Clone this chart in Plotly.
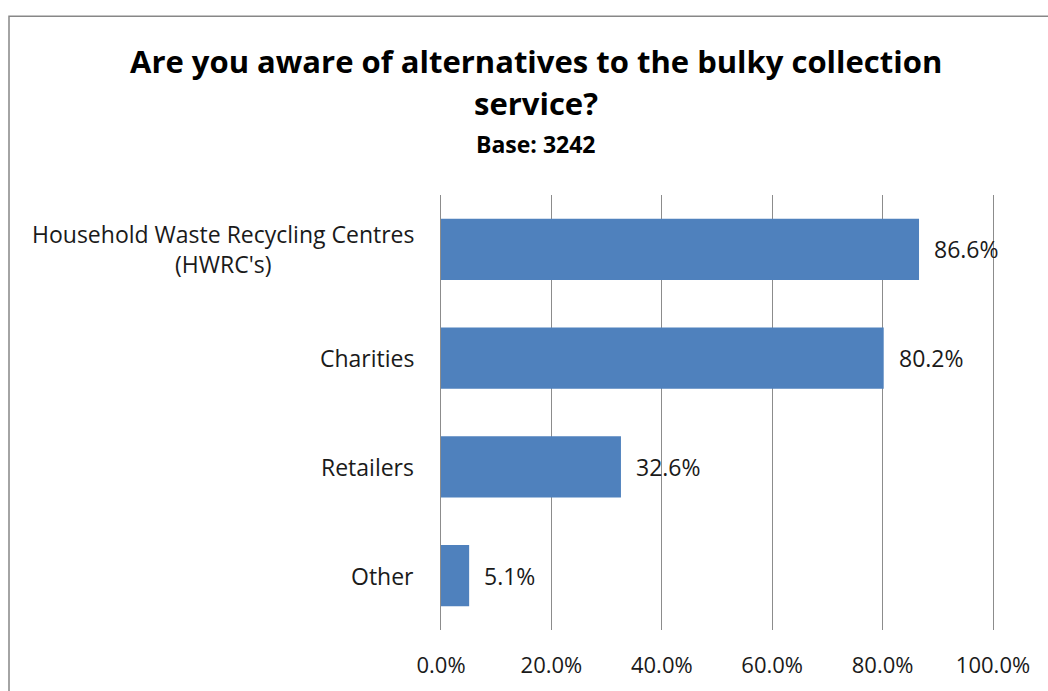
import plotly.graph_objects as go

categories = ["Household Waste Recycling Centres<br>(HWRC's)", "Charities", "Retailers", "Other"]
values = [86.6, 80.2, 32.6, 5.1]
tick_vals = [0, 20, 40, 60, 80, 100]
tick_text = ["0.0%", "20.0%", "40.0%", "60.0%", "80.0%", "100.0%"]
title_lines = ["Are you aware of alternatives to the bulky collection", "service?"]
subtitle = "Base: 3242"

FONT = "Open Sans, sans-serif"
TXT = "#1a1a1a"
GRID = "#8c8c8c"
W, H = 1048, 691
L, R, T, B = 441, 55, 195, 58
pw, ph = W - L - R, H - T - B

def px_x(px):
    return (px - L) / pw

def px_y(py):
    return (H - B - py) / ph

fig = go.Figure()
fig.add_trace(go.Bar(
    x=values, y=categories, orientation="h",
    marker=dict(color="#4F81BD", line=dict(width=0)),
    width=0.565, hoverinfo="skip",
))

annotations = []
for c, v in zip(categories, values):
    annotations.append(dict(x=v, y=c, xref="x", yref="y", text=f"{v:.1f}%",
                            showarrow=False, xanchor="left", xshift=13,
                            font=dict(family=FONT, size=23, color=TXT)))
    annotations.append(dict(x=0, y=c, xref="x", yref="y", text=c,
                            showarrow=False, xanchor="right", xshift=-25, align="center",
                            font=dict(family=FONT, size=23, color=TXT)))

annotations.append(dict(x=px_x(536), y=px_y(60), xref="paper", yref="paper", text="<b>" + title_lines[0] + "</b>",
                        showarrow=False, xanchor="center", yanchor="middle",
                        font=dict(family=FONT, size=31, color="#000000")))
annotations.append(dict(x=px_x(536), y=px_y(102), xref="paper", yref="paper", text="<b>" + title_lines[1] + "</b>",
                        showarrow=False, xanchor="center", yanchor="middle",
                        font=dict(family=FONT, size=31, color="#000000")))
annotations.append(dict(x=px_x(536), y=px_y(144), xref="paper", yref="paper", text="<b>" + subtitle + "</b>",
                        showarrow=False, xanchor="center", yanchor="middle",
                        font=dict(family=FONT, size=23, color="#000000")))

fig.update_layout(
    width=W, height=H,
    margin=dict(l=L, r=R, t=T, b=B, pad=0),
    paper_bgcolor="white", plot_bgcolor="white",
    showlegend=False,
    annotations=annotations,
    shapes=[dict(type="rect", xref="paper", yref="paper",
                 x0=px_x(9), x1=px_x(1070), y0=px_y(720), y1=px_y(15),
                 line=dict(color="#878787", width=1.5), fillcolor="rgba(0,0,0,0)", layer="below")],
    xaxis=dict(range=[0, 100], tickvals=tick_vals, ticktext=tick_text,
               showgrid=True, gridcolor=GRID, gridwidth=1, zeroline=False,
               showline=False, ticks="", ticklabelstandoff=20,
               tickfont=dict(family=FONT, size=22, color=TXT), fixedrange=True),
    yaxis=dict(categoryorder="array", categoryarray=categories[::-1],
               showticklabels=False, showgrid=False, zeroline=False,
               showline=True, mirror=True, linecolor=GRID, linewidth=1,
               ticks="", fixedrange=True),
)

fig.write_html("out.html", config={"displayModeBar": False},
               post_script="document.body.style.margin='0';document.body.style.overflow='hidden';")
